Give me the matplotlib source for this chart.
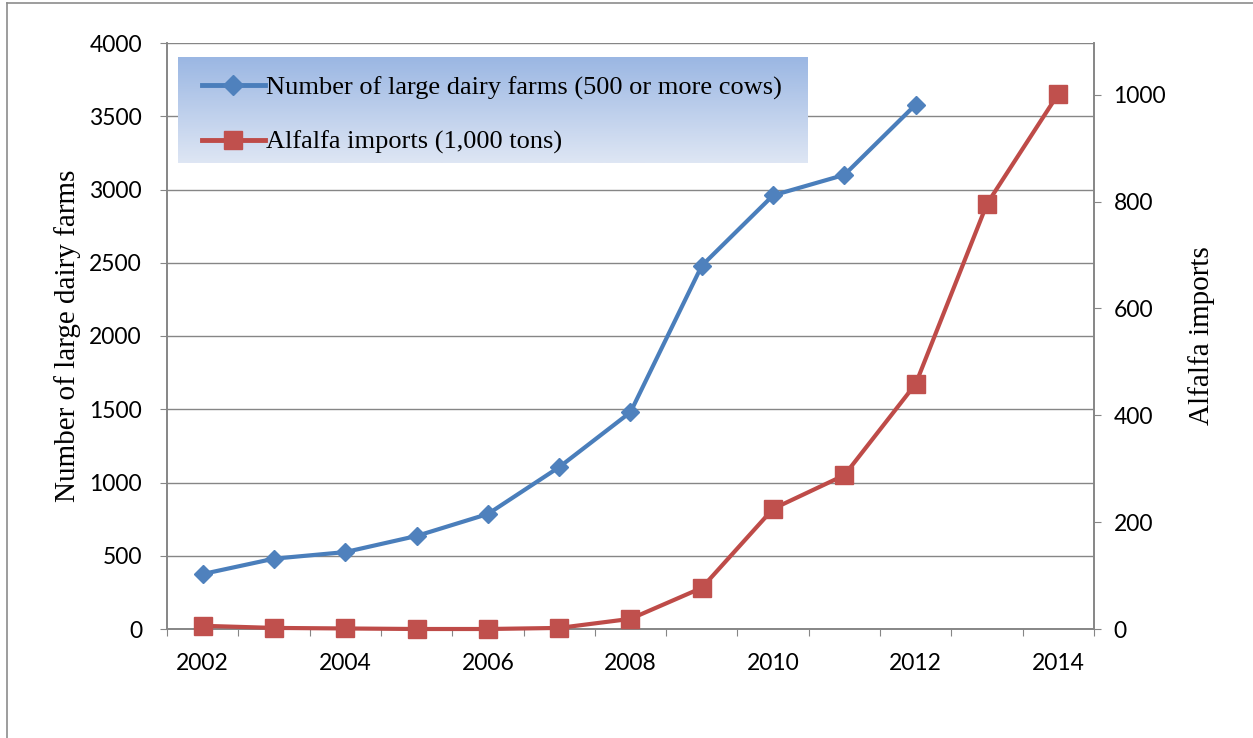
import numpy as np
import matplotlib.pyplot as plt
from matplotlib.lines import Line2D

# data
years = [2002, 2003, 2004, 2005, 2006, 2007, 2008, 2009, 2010, 2011, 2012, 2013, 2014]
farm_years = [2002, 2003, 2004, 2005, 2006, 2007, 2008, 2009, 2010, 2011, 2012]
large_farms = [375, 480, 525, 635, 785, 1105, 1480, 2480, 2960, 3100, 3580]
alfalfa = [6, 2, 1, 0, 0, 2, 19, 77, 225, 288, 459, 796, 1002]

label_years = [2002, 2004, 2006, 2008, 2010, 2012, 2014]
farm_label = "Number of large dairy farms (500 or more cows)"
alfalfa_label = "Alfalfa imports (1,000 tons)"

blue = "#4A7EBB"
blue_mk = "#4F81BD"
red = "#BE4B48"
red_mk = "#C0504D"
grid_c = "#868686"

serif = "Liberation Serif"
sans = "Lato"

W, H = 1253, 738
fig = plt.figure(figsize=(W / 100, H / 100), dpi=100)
ax = fig.add_axes([167 / W, 1 - 629 / H, 927 / W, 586 / H])
ax2 = ax.twinx()

ax.plot(farm_years, large_farms, color=blue, lw=3, marker="D", ms=9,
        mfc=blue_mk, mec=blue_mk, zorder=4, clip_on=False)
ax2.plot(years, alfalfa, color=red, lw=3, marker="s", ms=13,
         mfc=red_mk, mec=red_mk, zorder=4, clip_on=False)

ax.set_xlim(2001.5, 2014.5)
ax.set_ylim(0, 4000)
ax2.set_ylim(0, 1097)

ax.set_yticks(np.arange(0, 4001, 500))
ax2.set_yticks(np.arange(0, 1001, 200))
ax.set_xticks(np.arange(2001.5, 2015, 1))
ax.set_xticklabels([])
ax.set_xticks(label_years, minor=True)
ax.set_xticklabels([str(y) for y in label_years], minor=True)

ax.yaxis.grid(True, color=grid_c, lw=1)
ax.set_axisbelow(True)

for a in (ax, ax2):
    for s in a.spines.values():
        s.set_color(grid_c)
        s.set_linewidth(1.2)
    a.spines["top"].set_visible(False)

ax.tick_params(axis="x", which="major", direction="out", length=5, color=grid_c)
ax.tick_params(axis="x", which="minor", length=0, pad=17, labelsize=16.5)
ax.tick_params(axis="y", direction="out", length=5, color=grid_c, pad=13, labelsize=16.5)
ax2.tick_params(axis="y", direction="out", length=5, color=grid_c, pad=9, labelsize=16.5)
for lab in ax.get_xticklabels(minor=True) + ax.get_yticklabels() + ax2.get_yticklabels():
    lab.set_fontfamily(sans)

ax.set_ylabel("Number of large dairy farms", fontfamily=serif, fontsize=21, labelpad=6)
ax2.set_ylabel("Alfalfa imports", fontfamily=serif, fontsize=21, labelpad=16)

# legend box with vertical gradient
gax = fig.add_axes([178 / W, 1 - 163 / H, 629 / W, 106 / H])
top = np.array([155, 183, 227]) / 255
bot = np.array([222, 230, 244]) / 255
t = np.linspace(0, 1, 100)[:, None]
grad = (top * (1 - t) + bot * t)[:, None, :]
gax.imshow(grad, aspect="auto", extent=[0, 1, 0, 1])
gax.set_axis_off()
handles = [
    Line2D([], [], color=blue, lw=3.5, marker="D", ms=10, mfc=blue_mk, mec=blue_mk),
    Line2D([], [], color=red, lw=3.5, marker="s", ms=13, mfc=red_mk, mec=red_mk),
]
gax.legend(handles, [farm_label, alfalfa_label], loc="center left",
           bbox_to_anchor=(0.0, 0.45), frameon=False, handlelength=2.4,
           handletextpad=0.05, labelspacing=1.15, borderaxespad=0.5,
           prop={"family": serif, "size": 19})

# outer chart border (partly cropped in the reference)
fig.add_artist(Line2D([7 / W, 7 / W], [0, 1 - 3 / H], color="#8c8c8c", lw=1.2))
fig.add_artist(Line2D([7 / W, 1], [1 - 3 / H, 1 - 3 / H], color="#8c8c8c", lw=1.2))

fig.savefig("out.png", dpi=100)
